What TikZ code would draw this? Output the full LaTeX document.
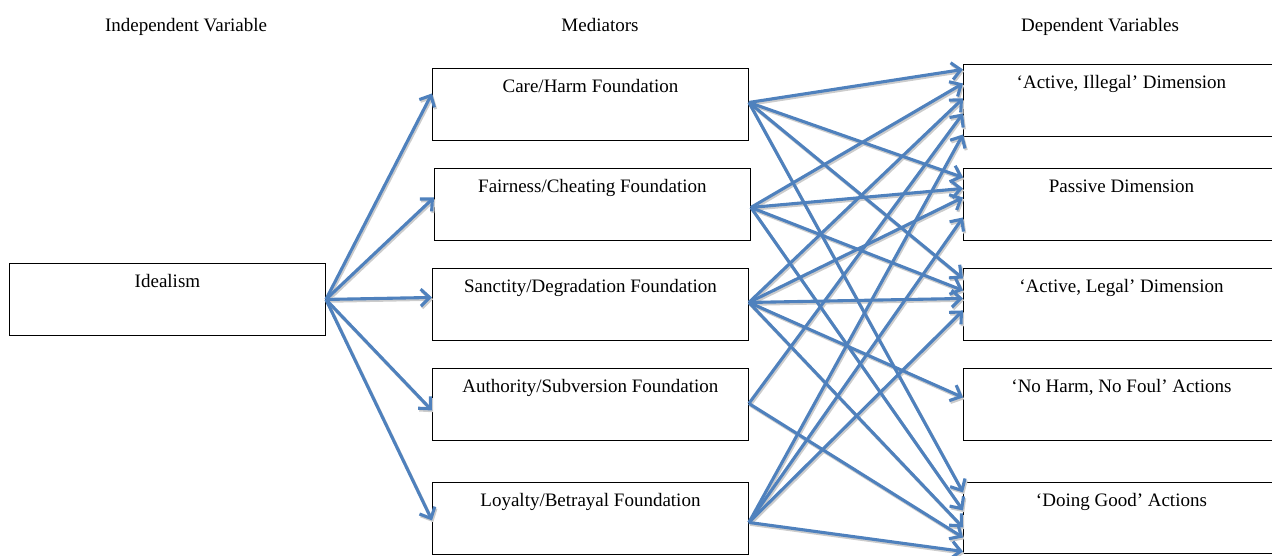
\documentclass[tikz,border=0pt]{standalone}
\usepackage{fontspec}
\setmainfont{Liberation Serif}
\usetikzlibrary{arrows.meta}
\definecolor{arrblue}{HTML}{4F81BD}
\begin{document}
\begin{tikzpicture}[x=1pt,y=-1pt,
  box/.style={draw=black, line width=0.9pt, minimum width=316pt, minimum height=72pt, inner sep=0pt, anchor=north west},
  txt/.style={font=\fontsize{19}{22}\selectfont, anchor=base, inner sep=0pt},
  arr/.style={draw=arrblue, line width=3.1pt, -{Straight Barb[length=9pt,width=17pt]}},
  shadowarr/.style={draw=black!20, line width=3.1pt, -{Straight Barb[length=9pt,width=17pt]}}]
\useasboundingbox (0,0) rectangle (1272,555);
\clip (0,0) rectangle (1272,555);

% headers
\node[txt] (hiv) at (186,31) {Independent Variable};
\node[txt] (hmed) at (600,31) {Mediators};
\node[txt] (hdv) at (1100,31) {Dependent Variables};

% boxes
\node[box] (ideal) at (9,263) {};
\node[box] (care) at (432,68) {};
\node[box] (fair) at (434,168) {};
\node[box] (sanc) at (432,268) {};
\node[box] (auth) at (432,368) {};
\node[box] (loy) at (432,482) {};
\node[box] (ai) at (963,64) {};
\node[box] (pas) at (963,168) {};
\node[box] (al) at (963,268) {};
\node[box] (nh) at (963,368) {};
\node[box, minimum height=71pt] (dg) at (963,482) {};

% box texts
\node[txt] (idealt) at ([yshift=-24pt]ideal.north) {Idealism};
\node[txt] (caret) at ([yshift=-24pt]care.north) {Care/Harm Foundation};
\node[txt] (fairt) at ([yshift=-24pt]fair.north) {Fairness/Cheating Foundation};
\node[txt] (senct) at ([yshift=-24pt]sanc.north) {Sanctity/Degradation Foundation};
\node[txt] (autht) at ([yshift=-24pt]auth.north) {Authority/Subversion Foundation};
\node[txt] (loyt) at ([yshift=-24pt]loy.north) {Loyalty/Betrayal Foundation};
\node[txt] (ait) at ([yshift=-24pt]ai.north) {‘Active, Illegal’ Dimension};
\node[txt] (past) at ([yshift=-24pt]pas.north) {Passive Dimension};
\node[txt] (alt) at ([yshift=-24pt]al.north) {‘Active, Legal’ Dimension};
\node[txt] (nht) at ([yshift=-24pt]nh.north) {‘No Harm, No Foul’ Actions};
\node[txt] (dgt) at ([yshift=-24pt]dg.north) {‘Doing Good’ Actions};

% connectors: shadow pass then main pass
\foreach \sty/\ox/\oy in {shadowarr/1.2pt/-1.8pt, arr/0pt/0pt}{
  \begin{scope}[transform canvas={shift={(\ox,\oy)}}]
  \foreach \t/\d in {care/11, fair/7, sanc/7, auth/-6, loy/-2}
    \draw[\sty] (ideal.east) -- ([yshift=\d pt]\t.west);
  \foreach \s/\a/\t/\d in {
      care/2/ai/31, fair/-3/ai/17, sanc/2/ai/2, auth/1/ai/-13, loy/-4/ai/-34,
      care/2/pas/27, fair/-3/pas/16, sanc/2/pas/7, loy/-4/pas/-13,
      care/2/al/26, fair/-3/al/14, sanc/2/al/6, loy/-4/al/-6,
      sanc/2/nh/7,
      care/2/dg/25.5, fair/-3/dg/7.5, sanc/2/dg/-9.5, auth/1/dg/-19.5, loy/-4/dg/-33.5}
    \draw[\sty] ([yshift=\a pt]\s.east) -- ([yshift=\d pt]\t.west);
  \end{scope}
}
\end{tikzpicture}
\end{document}
